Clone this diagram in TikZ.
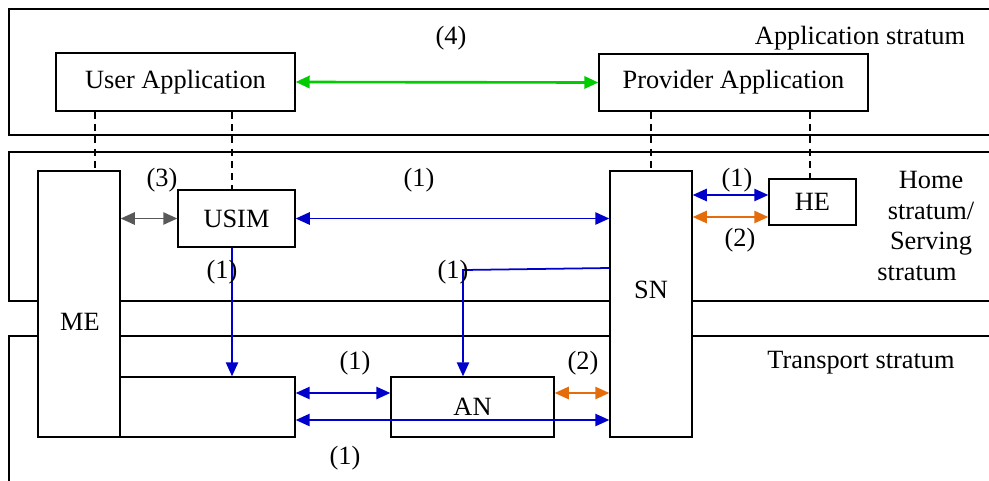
\documentclass[tikz,border=0pt]{standalone}
\usepackage{fontspec}
\setmainfont{Liberation Serif}
\usetikzlibrary{arrows.meta,calc}
\definecolor{linkblue}{RGB}{0,0,204}
\definecolor{linkorange}{RGB}{228,108,10}
\definecolor{linkgray}{RGB}{89,89,89}
\definecolor{appgreen}{RGB}{0,204,0}
\tikzset{
  pin/.style={{Triangle[length=8pt,width=7pt]}-{Triangle[length=8pt,width=7pt]}, line width=1pt},
  onepin/.style={-{Triangle[length=8pt,width=7pt]}, line width=1pt},
  unit/.style={draw, fill=white, line width=0.8pt, inner sep=0pt},
  stratum/.style={line width=0.8pt},
  tether/.style={dash pattern=on 4pt off 3pt, line width=0.6pt}
}

\begin{document}
\begin{tikzpicture}[x=0.02cm, y=-0.02cm, font=\fontsize{15}{17.6}\selectfont]
  \useasboundingbox (0,0) rectangle (989,480);
  % strata frames, open to the right
  \draw[stratum] (9,9) rectangle (1000,135);
  \draw[stratum] (9,152) rectangle (1000,301);
  \draw[stratum] (9,336) rectangle (1000,500);
  \node (appstr) at (860,38) {Application stratum};
  \node[align=center] (homestr) at (931,226) {Home\\stratum/\\Serving\\stratum\hspace*{0.56cm}};
  \node (transstr) at (861,363) {Transport stratum};
  % application boxes
  \node[unit, minimum width=4.78cm, minimum height=1.16cm] (userapp) at (175.5,82) {User Application};
  \node[unit, minimum width=5.38cm, minimum height=1.14cm] (provapp) at (733.5,82.5) {Provider Application};
  % equipment and network boxes
  \node[unit, minimum width=1.64cm, minimum height=5.32cm] (me) at (79,304) {};
  \node (metext) at (80,322) {ME};
  \node[unit, minimum width=1.64cm, minimum height=5.32cm] (sn) at (651,304) {};
  \node (sntext) at (651,290) {SN};
  \node[unit, minimum width=2.34cm, minimum height=1.14cm] (usim) at (236.5,218.5) {USIM};
  \node[unit, minimum width=1.74cm, minimum height=0.92cm] (he) at (812.5,202) {HE};
  \node[unit, minimum width=3.50cm, minimum height=1.20cm] (ue) at (207.5,407) {};
  \node[unit, minimum width=3.26cm, minimum height=1.20cm] (an) at (472.5,407) {AN};
  % dashed ties to the applications
  \draw[tether] (userapp.south -| 95,0) -- (me.north -| 95,0);
  \draw[tether] (userapp.south -| 232,0) -- (usim.north -| 232,0);
  \draw[tether] (provapp.south -| 651,0) -- (sn.north -| 651,0);
  \draw[tether] (provapp.south -| 810,0) -- (he.north -| 810,0);
  % (4) application link
  \draw[pin, appgreen, line width=1.5pt] (userapp.east) -- (provapp.west);
  \node (lbl4) at (451,38) {(4)};
  % (3) ME -- USIM
  \draw[pin, linkgray] (usim.west) -- (usim.west -| me.east);
  \node (lbl3) at (162,180) {(3)};
  % (1) USIM -- SN
  \draw[pin, linkblue] (usim.east) -- (usim.east -| sn.west);
  \node (lbl1a) at (419,180) {(1)};
  % SN -- HE
  \coordinate (heup) at ($(he.west)+(0,-7)$);
  \coordinate (helo) at ($(he.west)+(0,15)$);
  \draw[pin, linkblue] (heup) -- (heup -| sn.east);
  \draw[pin, linkorange] (helo) -- (helo -| sn.east);
  \node (lbl1b) at (737,180) {(1)};
  \node (lbl2a) at (740,240) {(2)};
  % USIM down to the terminal box
  \draw[onepin, linkblue] (usim.south -| 232,0) -- (ue.north -| 232,0);
  \node (lbl1c) at (222,272) {(1)};
  % SN down to AN
  \coordinate (turn) at (463,270);
  \draw[onepin, linkblue] (sn.west |- 0,268) -- (turn) -- (turn |- an.north);
  \node (lbl1d) at (453,272) {(1)};
  % transport links
  \draw[pin, linkblue] (ue.east |- 0,393) -- (an.west |- 0,393);
  \node (lbl1e) at (355,363) {(1)};
  \draw[pin, linkorange] (an.east |- 0,393) -- (sn.west |- 0,393);
  \node (lbl2b) at (583,363) {(2)};
  \draw[pin, linkblue] (ue.east |- 0,420) -- (sn.west |- 0,420);
  \node (lbl1f) at (345,458) {(1)};
\end{tikzpicture}
\end{document}
